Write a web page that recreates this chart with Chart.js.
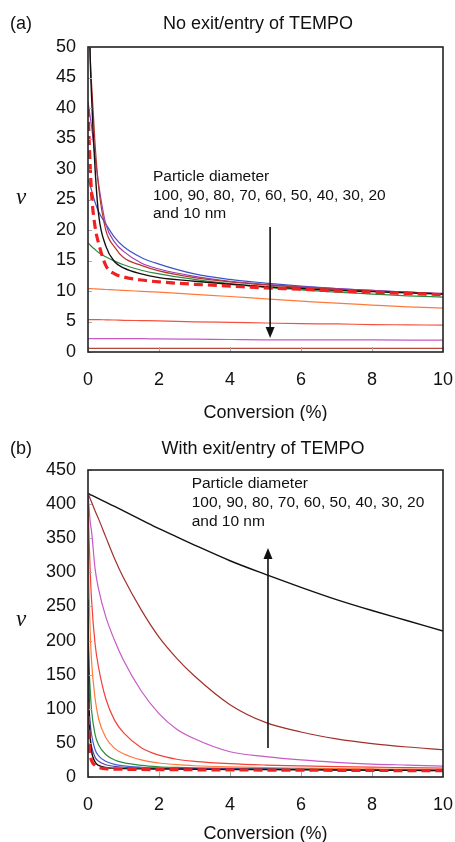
<!DOCTYPE html>
<html>
<head>
<meta charset="utf-8">
<script src="https://cdn.jsdelivr.net/npm/chart.js@4.4.0/dist/chart.umd.min.js"></script>
<style>
  html, body { margin: 0; padding: 0; background: #fff; }
  #wrap { position: relative; width: 455px; height: 842px; }
  canvas { position: absolute; left: 0; }
</style>
</head>
<body>
<div id="wrap">
  <canvas id="chartA" width="455" height="421" style="top:0"></canvas>
  <canvas id="chartB" width="455" height="421" style="top:421px"></canvas>
</div>
<script>
// ---- (a) no exit/entry of TEMPO ----
const convA = [0, 0.05, 0.1, 0.2, 0.3, 0.5, 0.75, 1, 1.5, 2, 3, 4, 5, 6, 7, 8, 9, 10];
const a100 = [40, 32, 26, 20.5, 17.8, 14.2, 12.8, 12.3, 11.8, 11.5, 11.1, 10.8, 10.5, 10.3, 10.0, 9.8, 9.6, 9.4];
const a90  = [80, 52, 42, 30, 22.5, 17.4, 14.8, 13.8, 12.8, 12.2, 11.6, 11.1, 10.7, 10.4, 10.1, 9.9, 9.7, 9.5];
const a80  = [60, 50, 44, 34, 27, 20, 17.2, 15.5, 14.2, 13.3, 12.2, 11.5, 11.0, 10.6, 10.3, 10.0, 9.8, 9.5];
const a70  = [41, 39, 37, 32, 27.5, 21, 18, 16.5, 14.6, 13.6, 12.4, 11.6, 11.1, 10.7, 10.4, 10.1, 9.8, 9.6];
const a60  = [28.3, 27.5, 26.5, 24.5, 23, 21, 18.8, 17.3, 15.5, 14.4, 12.8, 11.9, 11.3, 10.8, 10.4, 10.1, 9.8, 9.5];
const a50  = [17.9, 17.6, 17.3, 16.8, 16.3, 15.6, 14.9, 14.3, 13.4, 12.8, 11.9, 11.2, 10.6, 10.2, 9.8, 9.5, 9.2, 9.0];
const a40  = [10.4, 10.4, 10.4, 10.35, 10.3, 10.25, 10.2, 10.1, 9.95, 9.8, 9.45, 9.1, 8.7, 8.35, 8.0, 7.7, 7.4, 7.2];
const a30  = [5.3, 5.3, 5.3, 5.3, 5.3, 5.28, 5.25, 5.2, 5.15, 5.1, 4.95, 4.85, 4.75, 4.65, 4.6, 4.5, 4.45, 4.4];
const a20  = [2.2, 2.2, 2.2, 2.2, 2.2, 2.2, 2.2, 2.2, 2.18, 2.15, 2.1, 2.05, 2.0, 2.0, 2.0, 1.98, 1.96, 1.95];
const a10  = [0.6, 0.6, 0.6, 0.6, 0.6, 0.6, 0.6, 0.6, 0.6, 0.6, 0.6, 0.6, 0.6, 0.6, 0.6, 0.6, 0.6, 0.6];
const yTicksA = [0, 50, 5];

// ---- (b) with exit/entry of TEMPO ----
const convB = [0, 0.03, 0.06, 0.1, 0.2, 0.3, 0.5, 0.75, 1, 1.5, 2, 2.5, 3, 4, 5, 6, 7, 8, 9, 10];
const b100 = [110, 50, 33, 24, 17, 14, 12.2, 11.6, 11.3, 11, 10.8, 10.7, 10.6, 10.4, 10.2, 10, 9.8, 9.6, 9.4, 9.2];
const b90  = [260, 110, 60, 38, 22, 17, 14, 12.8, 12.3, 11.9, 11.7, 11.5, 11.4, 11.1, 10.9, 10.6, 10.3, 10, 9.7, 9.4];
const b80  = [100, 75, 58, 45, 29, 23, 18, 15.5, 14.3, 13.2, 12.6, 12.2, 12, 11.6, 11.3, 11, 10.6, 10.2, 9.8, 9.4];
const b70  = [130, 100, 80, 62, 40, 31, 23, 18.5, 16.3, 14.3, 13.3, 12.8, 12.4, 11.9, 11.5, 11.1, 10.7, 10.3, 9.9, 9.5];
const b60  = [210, 160, 130, 98, 62, 47, 33, 25, 21, 17, 15, 14, 13.3, 12.5, 12, 11.5, 11, 10.5, 10, 9.7];
const b50  = [350, 270, 215, 170, 115, 85, 58, 42, 34, 25, 20.5, 18, 16.5, 14.8, 13.7, 13, 12.4, 11.9, 11.4, 11];
const b40  = [400, 350, 305, 260, 195, 160, 115, 83, 65, 43, 32, 26, 23, 19.5, 17.5, 16.2, 15.2, 14.4, 13.7, 13];
const b30  = [416, 395, 375, 360, 305, 275, 235, 200, 171, 126, 93, 70, 56, 37, 30, 25, 21.5, 19, 17.5, 16];
const b20  = [416, 412, 408, 403, 390, 378, 352, 320, 292, 245, 205, 174, 148, 106, 80, 66, 56, 49, 44, 40];
const b10  = [416, 415, 414, 413, 410.5, 408, 403, 396.5, 390, 377, 364, 352, 340, 317, 297, 278, 260, 244, 229, 214];
const yTicksB = [0, 450, 50];

const xTicks = [0, 10, 2];

const FONT = "'Liberation Sans', Arial, sans-serif";

function series(label, conv, vals, color, width, dash) {
  return {
    label: label,
    data: conv.map((c, i) => ({ x: c, y: vals[i] })),
    borderColor: color,
    borderWidth: width,
    borderDash: dash || [],
    pointRadius: 0,
    fill: false,
    cubicInterpolationMode: 'monotone'
  };
}

// frame, inner tick marks, titles and the arrow annotation
const decorPlugin = {
  id: 'decor',
  afterDatasetsDraw(chart, args, o) {
    const { ctx, chartArea: a, scales: { x, y } } = chart;
    ctx.save();

    ctx.strokeStyle = '#aaa';
    ctx.lineWidth = 1;
    x.ticks.forEach(t => {
      const px = Math.round(x.getPixelForValue(t.value)) + 0.5;
      ctx.beginPath(); ctx.moveTo(px, a.bottom); ctx.lineTo(px, a.bottom - 5); ctx.stroke();
    });
    y.ticks.forEach(t => {
      const py = Math.round(y.getPixelForValue(t.value)) + 0.5;
      ctx.beginPath(); ctx.moveTo(a.left, py); ctx.lineTo(a.left + 4, py); ctx.stroke();
    });

    ctx.strokeStyle = '#222';
    ctx.lineWidth = 1.6;
    ctx.strokeRect(a.left, a.top, a.right - a.left, a.bottom - a.top);

    ctx.fillStyle = '#111';
    ctx.textBaseline = 'middle';
    ctx.font = '18px ' + FONT;
    ctx.textAlign = 'left';
    ctx.fillText(o.panel, 10, o.titleY);
    ctx.textAlign = 'center';
    ctx.fillText(o.title, o.titleX, o.titleY);

    ctx.font = 'italic 23px "Liberation Serif", "DejaVu Serif", serif';
    ctx.fillText('\u03bd', 21, o.nuY);

    ctx.font = '15.5px ' + FONT;
    ctx.textAlign = 'left';
    const tx = x.getPixelForValue(o.textAt[0]);
    const ty = y.getPixelForValue(o.textAt[1]);
    o.lines.forEach((s, i) => ctx.fillText(s, tx, ty + i * o.lineStep));

    const ax = x.getPixelForValue(o.arrow[0]);
    const y1 = y.getPixelForValue(o.arrow[1]);
    const y2 = y.getPixelForValue(o.arrow[2]);
    const dir = y2 > y1 ? 1 : -1;
    ctx.strokeStyle = '#111';
    ctx.lineWidth = 1.6;
    ctx.beginPath(); ctx.moveTo(ax, y1); ctx.lineTo(ax, y2 - dir * 9); ctx.stroke();
    ctx.beginPath();
    ctx.moveTo(ax, y2);
    ctx.lineTo(ax - 4.5, y2 - dir * 11);
    ctx.lineTo(ax + 4.5, y2 - dir * 11);
    ctx.closePath();
    ctx.fill();

    ctx.restore();
  }
};

function makeChart(id, datasets, yTicks, opts) {
  const tickFont = { family: FONT, size: 18 };
  return new Chart(document.getElementById(id), {
    type: 'line',
    data: { datasets: datasets },
    options: {
      responsive: false,
      animation: false,
      events: [],
      layout: { padding: { left: 0, right: 12, top: opts.top, bottom: 0 } },
      plugins: { legend: { display: false }, tooltip: { enabled: false }, decor: opts.decor },
      scales: {
        x: {
          type: 'linear', min: xTicks[0], max: xTicks[1],
          ticks: { stepSize: xTicks[2], color: '#111', font: tickFont, padding: 17, maxRotation: 0 },
          grid: { display: false, drawTicks: false },
          border: { display: false },
          title: { display: true, text: 'Conversion (%)', color: '#111', font: { family: FONT, size: 18 }, padding: { top: 0, bottom: -3 } },
          afterFit: s => { s.height = opts.xHeight; s.paddingLeft = 0; s.paddingRight = 0; }
        },
        y: {
          type: 'linear', min: yTicks[0], max: yTicks[1],
          ticks: { stepSize: yTicks[2], color: '#111', font: tickFont, padding: 12 },
          grid: { display: false, drawTicks: false },
          border: { display: false },
          afterFit: s => { s.width = 88; s.paddingTop = 0; s.paddingBottom = 0; }
        }
      }
    },
    plugins: [decorPlugin]
  });
}

makeChart('chartA', [
  series('100 nm', convA, a100, '#ee2222', 3.2, [9, 5]),
  series('90 nm', convA, a90, '#111111', 1.4),
  series('80 nm', convA, a80, '#b3362c', 1.2),
  series('70 nm', convA, a70, '#9b3fb0', 1.2),
  series('60 nm', convA, a60, '#3b55c9', 1.2),
  series('50 nm', convA, a50, '#2e8b3e', 1.2),
  series('40 nm', convA, a40, '#ff7a3a', 1.2),
  series('30 nm', convA, a30, '#f4513e', 1.2),
  series('20 nm', convA, a20, '#c659c6', 1.2),
  series('10 nm', convA, a10, '#b5473a', 1.2)
], yTicksA, {
  top: 47, xHeight: 69,
  decor: {
    panel: '(a)', title: 'No exit/entry of TEMPO', titleX: 258, titleY: 24, nuY: 198,
    lines: ['Particle diameter', '100, 90, 80, 70, 60, 50, 40, 30, 20', 'and 10 nm'],
    textAt: [1.83, 28.7], lineStep: 18.3,
    arrow: [5.13, 20.5, 2.3]
  }
});

makeChart('chartB', [
  series('100 nm', convB, b100, '#ee2222', 3.2, [9, 5]),
  series('90 nm', convB, b90, '#111111', 1.4),
  series('80 nm', convB, b80, '#5a3f9e', 1.2),
  series('70 nm', convB, b70, '#4563cf', 1.2),
  series('60 nm', convB, b60, '#2e8b3e', 1.2),
  series('50 nm', convB, b50, '#ff7a3a', 1.2),
  series('40 nm', convB, b40, '#f4403a', 1.2),
  series('30 nm', convB, b30, '#c659c6', 1.2),
  series('20 nm', convB, b20, '#a0302a', 1.2),
  series('10 nm', convB, b10, '#111111', 1.4)
], yTicksB, {
  top: 49, xHeight: 65,
  decor: {
    panel: '(b)', title: 'With exit/entry of TEMPO', titleX: 263, titleY: 28, nuY: 199,
    lines: ['Particle diameter', '100, 90, 80, 70, 60, 50, 40, 30, 20', 'and 10 nm'],
    textAt: [2.92, 429.6], lineStep: 19,
    arrow: [5.07, 42.5, 335.8]
  }
});
</script>
</body>
</html>
